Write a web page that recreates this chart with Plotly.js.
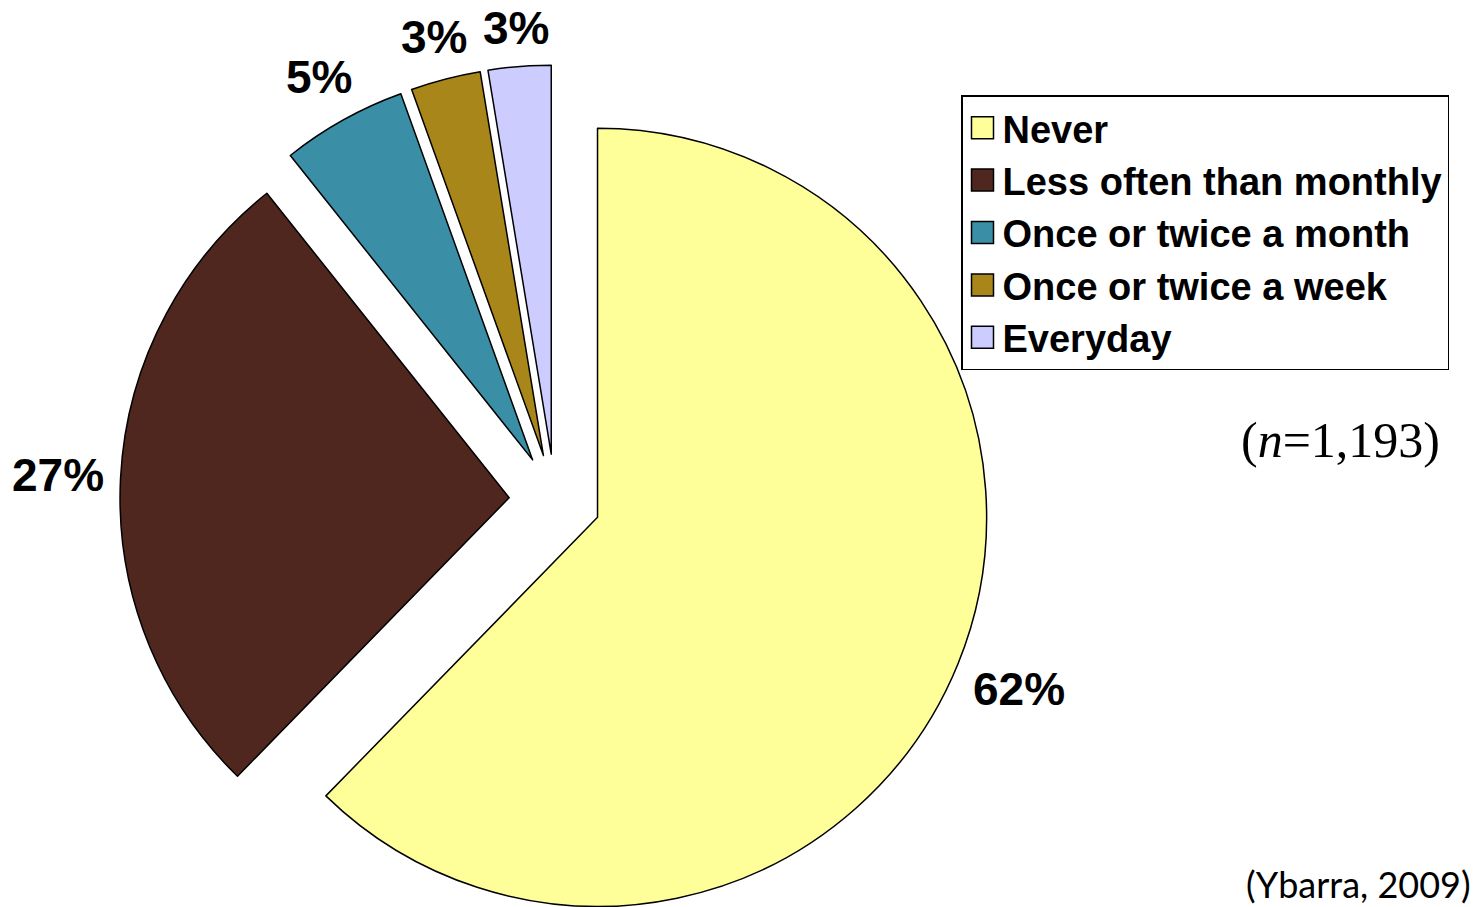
<!DOCTYPE html>
<html>
<head>
<meta charset="utf-8">
<script src="https://cdn.plot.ly/plotly-3.0.1.min.js"></script>
<style>
html, body { margin: 0; padding: 0; overflow: hidden; background: #ffffff; }
#chart { width: 1473px; height: 1000px; }
</style>
</head>
<body>
<div id="chart"></div>
<script>
// ---- data ----
const categories = ['Never', 'Less often than monthly', 'Once or twice a month', 'Once or twice a week', 'Everyday'];
const shares = [62.3, 27.0, 5.2, 2.9, 2.6];
const sliceColors = ['#FFFF99', '#4F271F', '#3A8FA6', '#A8861A', '#CCCCFF'];
const pulls = [0.118, 0.118, 0.118, 0.118, 0.118];
const sampleNote = '(<i>n</i>=1,193)';
const sourceNote = '(Ybarra, 2009)';

const W = 1473, H = 1000;
// pie centre / half-size of the domain box in pixels
const CX = 555, CY = 500, HALF = 435;
const LABEL_SIZE = 46;

const trace = {
  type: 'pie',
  labels: categories,
  values: shares,
  sort: false,
  direction: 'clockwise',
  rotation: 0,
  pull: pulls,
  marker: { colors: sliceColors, line: { color: '#000000', width: 1.5 } },
  textposition: 'none',
  domain: { x: [(CX - HALF) / W, (CX + HALF) / W], y: [1 - (CY + HALF) / H, 1 - (CY - HALF) / H] },
  hoverinfo: 'none'
};

// percentage labels placed just outside each slice, along its mid-angle
const total = shares.reduce(function (a, b) { return a + b; }, 0);
const charW = { '%': 0.889 };
const pctAnnotations = [];
let cum = 0;
shares.forEach(function (v) {
  const mid = (cum + v / 2) / total;
  cum += v;
  const th = 2 * Math.PI * mid;
  const ux = Math.sin(th), uy = -Math.cos(th);
  const txt = Math.round(100 * v / total + 1e-9) + '%';
  let em = 0;
  for (const ch of txt) em += (charW[ch] || 0.556);
  const hw = em * LABEL_SIZE / 2, hh = 20, gap = 16;
  const d = HALF + gap + hw * Math.abs(ux) + hh * Math.abs(uy);
  pctAnnotations.push({
    text: txt, xref: 'paper', yref: 'paper',
    x: (CX + d * ux) / W, y: 1 - (CY + d * uy) / H,
    xanchor: 'center', yanchor: 'middle', showarrow: false,
    font: { family: 'Liberation Sans, Arial, sans-serif', size: LABEL_SIZE, color: '#000000', weight: 'bold' }
  });
});

const layout = {
  width: W,
  height: H,
  margin: { l: 0, r: 0, t: 0, b: 0 },
  paper_bgcolor: '#ffffff',
  showlegend: true,
  legend: {
    x: 961 / W, y: 1 - 95 / H, xanchor: 'left', yanchor: 'top',
    bgcolor: '#ffffff', bordercolor: '#000000', borderwidth: 1.5,
    font: { family: 'Liberation Sans, Arial, sans-serif', size: 38, color: '#000000', weight: 'bold' },
    traceorder: 'normal'
  },
  annotations: pctAnnotations.concat([
    { text: sampleNote, xref: 'paper', yref: 'paper', x: 1340 / W, y: 1 - 440 / H,
      xanchor: 'center', yanchor: 'middle', showarrow: false,
      font: { family: 'Liberation Serif, Times New Roman, serif', size: 50, color: '#000000' } },
    { text: sourceNote, xref: 'paper', yref: 'paper', x: 1473 / W, y: 1 - 884 / H,
      xanchor: 'right', yanchor: 'middle', showarrow: false,
      font: { family: 'Lato, Open Sans, sans-serif', size: 36, color: '#000000' } }
  ])
};

Plotly.newPlot('chart', [trace], layout, { staticPlot: true, displayModeBar: false }).then(function (gd) {
  gd.querySelectorAll('.legendpie').forEach(function (p) {
    p.setAttribute('d', 'M11,11H-11V-11H11Z');
  });
});
</script>
</body>
</html>
